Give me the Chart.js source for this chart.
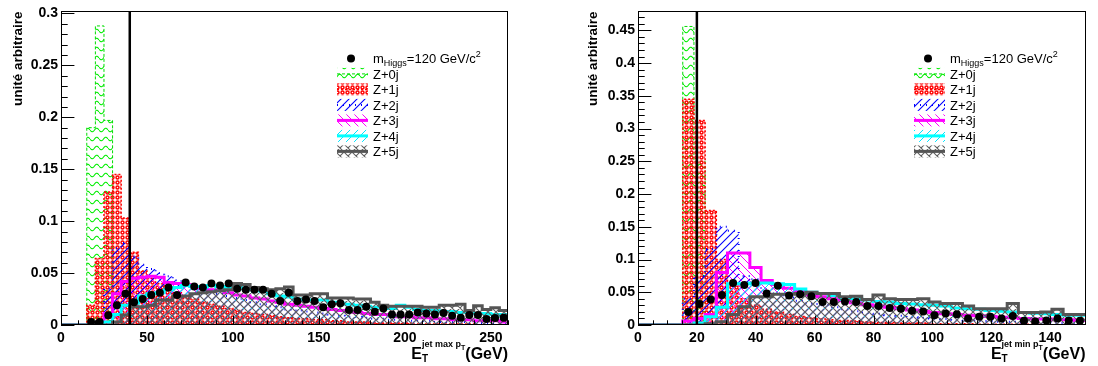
<!DOCTYPE html>
<html>
<head>
<meta charset="utf-8">
<script src="https://cdn.jsdelivr.net/npm/chart.js@4.4.1/dist/chart.umd.min.js"></script>
<style>
  html, body { margin: 0; padding: 0; background: #fff; }
  .pad { position: absolute; top: 0; width: 549px; height: 366px; }
</style>
</head>
<body>
<div class="pad" style="left:0"><canvas id="maxPtChart"></canvas></div>
<div class="pad" style="left:549px"><canvas id="minPtChart"></canvas></div>
<script>
// ---- left pad: E_T of the leading jet, 5 GeV bins from 0 to 260 ----
const maxPtBinWidth = 5;
const maxPtHiggs = [0, 0, 0, 0.003, 0.003, 0.0095, 0.019, 0.030, 0.022, 0.025,
  0.029, 0.031, 0.036, 0.029, 0.041, 0.037, 0.036, 0.040, 0.038, 0.040,
  0.035, 0.034, 0.034, 0.034, 0.030, 0.023, 0.031, 0.023, 0.0245, 0.023,
  0.017, 0.020, 0.021, 0.0145, 0.0145, 0.0175, 0.0127, 0.016, 0.010, 0.010,
  0.010, 0.012, 0.011, 0.0102, 0.0115, 0.0088, 0.007, 0.0096, 0.0096, 0.0058,
  0.0067, 0.007];
const maxPtZ0 = [0, 0, 0, 0.190, 0.288, 0.197, 0, 0, 0, 0,
  0, 0, 0, 0, 0, 0, 0, 0, 0, 0, 0, 0, 0, 0, 0, 0, 0, 0, 0, 0,
  0, 0, 0, 0, 0, 0, 0, 0, 0, 0, 0, 0, 0, 0, 0, 0, 0, 0, 0, 0, 0, 0];
const maxPtZ1 = [0, 0, 0, 0.019, 0.064, 0.128, 0.145, 0.103, 0.070, 0.052,
  0.045, 0.040, 0.035, 0.031, 0.028, 0.025, 0.022, 0.020, 0.018, 0.016,
  0.014, 0.012, 0.011, 0.010, 0.009, 0.008, 0.007, 0.006, 0.006, 0.005,
  0.005, 0.004, 0.004, 0.003, 0.003, 0.003, 0.002, 0.002, 0.002, 0.002,
  0.002, 0.001, 0.001, 0.001, 0.001, 0.001, 0.001, 0.001, 0, 0, 0, 0];
const maxPtZ2 = [0, 0, 0, 0, 0.004, 0.035, 0.074, 0.079, 0.066, 0.058,
  0.054, 0.050, 0.047, 0.043, 0.040, 0.037, 0.034, 0.032, 0.030, 0.028,
  0.026, 0.024, 0.022, 0.020, 0.018, 0.017, 0.015, 0.014, 0.013, 0.012,
  0.011, 0.010, 0.009, 0.008, 0.008, 0.007, 0.006, 0.006, 0.005, 0.005,
  0.004, 0.004, 0.004, 0.003, 0.003, 0.003, 0.003, 0.002, 0.002, 0.002,
  0.002, 0.002];
const maxPtZ3 = [0, 0, 0, 0, 0, 0.011, 0.030, 0.042, 0.045, 0.046,
  0.047, 0.046, 0.041, 0.040, 0.039, 0.037, 0.035, 0.034, 0.033, 0.031,
  0.029, 0.028, 0.026, 0.025, 0.023, 0.022, 0.020, 0.019, 0.018, 0.017,
  0.016, 0.015, 0.014, 0.013, 0.012, 0.011, 0.010, 0.010, 0.009, 0.008,
  0.008, 0.007, 0.007, 0.006, 0.006, 0.005, 0.005, 0.005, 0.004, 0.004,
  0.004, 0.003];
const maxPtZ4 = [0, 0, 0, 0, 0, 0.003, 0.010, 0.019, 0.021, 0.028,
  0.030, 0.031, 0.034, 0.036, 0.038, 0.037, 0.037, 0.038, 0.037, 0.036,
  0.037, 0.035, 0.034, 0.033, 0.030, 0.028, 0.027, 0.025, 0.024, 0.024,
  0.024, 0.022, 0.021, 0.020, 0.019, 0.018, 0.017, 0.017, 0.016, 0.019,
  0.017, 0.015, 0.014, 0.014, 0.013, 0.013, 0.012, 0.012, 0.011, 0.011,
  0.010, 0.010];
const maxPtZ5 = [0, 0, 0, 0, 0, 0, 0.003, 0.0096, 0.0175, 0.0175,
  0.019, 0.024, 0.024, 0.028, 0.028, 0.030, 0.031, 0.032, 0.033, 0.034,
  0.040, 0.039, 0.036, 0.035, 0.034, 0.035, 0.0366, 0.029, 0.029, 0.030,
  0.030, 0.026, 0.026, 0.026, 0.025, 0.025, 0.022, 0.019, 0.018, 0.018,
  0.018, 0.018, 0.017, 0.017, 0.019, 0.019, 0.020, 0.014, 0.0185, 0.015,
  0.0165, 0.014];
const maxPtXTicks = [0, 50, 100, 150, 200, 250];
const maxPtYTicks = [0, 0.05, 0.1, 0.15, 0.2, 0.25, 0.3];
const maxPtCut = [40, 40];

// ---- right pad: E_T of the softest jet, 3.8 GeV bins from 0 to 152 ----
const minPtBinWidth = 3.8;
const minPtHiggs = [0, 0, 0, 0, 0.020, 0.032, 0.039, 0.046, 0.064, 0.061,
  0.064, 0.048, 0.060, 0.045, 0.047, 0.044, 0.035, 0.035, 0.036, 0.035,
  0.029, 0.029, 0.026, 0.025, 0.0216, 0.0205, 0.015, 0.0177, 0.0166, 0.010,
  0.0126, 0.0126, 0.010, 0.0136, 0.0065, 0.0055, 0.007, 0.010, 0.007, 0.0065];
const minPtZ0 = [0, 0, 0, 0, 0.456, 0.25, 0, 0, 0, 0,
  0, 0, 0, 0, 0, 0, 0, 0, 0, 0, 0, 0, 0, 0, 0, 0, 0, 0, 0, 0,
  0, 0, 0, 0, 0, 0, 0, 0, 0, 0];
const minPtZ1 = [0, 0, 0, 0, 0.345, 0.3125, 0.175, 0.10, 0.06, 0.04,
  0.03, 0.024, 0.02, 0.016, 0.013, 0.011, 0.009, 0.008, 0.007, 0.006,
  0.005, 0.004, 0.004, 0.003, 0.003, 0.003, 0.002, 0.002, 0.002, 0.002,
  0.001, 0.001, 0.001, 0.001, 0.001, 0.001, 0, 0, 0, 0];
const minPtZ2 = [0, 0, 0, 0, 0.040, 0.075, 0.116, 0.150, 0.144, 0.075,
  0.070, 0.055, 0.048, 0.042, 0.037, 0.033, 0.030, 0.027, 0.024, 0.021,
  0.019, 0.017, 0.015, 0.014, 0.012, 0.011, 0.010, 0.009, 0.008, 0.007,
  0.007, 0.006, 0.005, 0.005, 0.004, 0.004, 0.004, 0.003, 0.003, 0.003];
const minPtZ3 = [0, 0, 0, 0, 0.006, 0.010, 0.016, 0.080, 0.110, 0.110,
  0.088, 0.068, 0.062, 0.056, 0.051, 0.046, 0.043, 0.040, 0.037, 0.034,
  0.031, 0.029, 0.027, 0.025, 0.023, 0.021, 0.019, 0.017, 0.016, 0.015,
  0.014, 0.013, 0.012, 0.011, 0.010, 0.009, 0.009, 0.008, 0.008, 0.007];
const minPtZ4 = [0, 0, 0, 0, 0, 0.003, 0.0126, 0.027, 0.063, 0.063,
  0.064, 0.064, 0.063, 0.062, 0.055, 0.050, 0.048, 0.045, 0.042, 0.040,
  0.038, 0.036, 0.035, 0.033, 0.032, 0.031, 0.030, 0.029, 0.026, 0.025,
  0.024, 0.022, 0.021, 0.020, 0.019, 0.018, 0.017, 0.016, 0.015, 0.015];
const minPtZ5 = [0, 0, 0, 0, 0, 0, 0.002, 0.005, 0.016, 0.028,
  0.043, 0.043, 0.047, 0.047, 0.048, 0.050, 0.048, 0.048, 0.043, 0.044,
  0.039, 0.046, 0.040, 0.039, 0.039, 0.040, 0.035, 0.033, 0.033, 0.029,
  0.025, 0.025, 0.025, 0.033, 0.019, 0.019, 0.020, 0.024, 0.016, 0.016];
const minPtXTicks = [0, 20, 40, 60, 80, 100, 120, 140];
const minPtYTicks = [0, 0.05, 0.1, 0.15, 0.2, 0.25, 0.3, 0.35, 0.4, 0.45];
const minPtCut = [20, 20];

const bgLabels = ["Z+0j", "Z+1j", "Z+2j", "Z+3j", "Z+4j", "Z+5j"];
const FONT = "'Liberation Sans', Arial, Helvetica, sans-serif";
Chart.defaults.font.family = FONT;

// ---- ROOT-like fill patterns ----
function tile(w, h, draw) {
  const c = document.createElement("canvas");
  c.width = w;
  c.height = h;
  const g = c.getContext("2d");
  draw(g, w, h);
  return g.createPattern(c, "repeat");
}
function hatch(color, dirs, lw) {
  return tile(8, 8, function (g, s) {
    g.strokeStyle = color;
    g.lineWidth = lw;
    g.beginPath();
    for (let k = -1; k <= 1; k++) {
      if (dirs.indexOf("/") >= 0) { g.moveTo(k * s - 1, s + 1); g.lineTo(k * s + s + 1, -1); }
      if (dirs.indexOf("\\") >= 0) { g.moveTo(k * s - 1, -1); g.lineTo(k * s + s + 1, s + 1); }
    }
    g.stroke();
  });
}
const patterns = {
  wave: tile(9, 9, function (g, w) {
    g.strokeStyle = "#00ee00";
    g.lineWidth = 1.1;
    g.beginPath();
    for (let x = 0; x <= w; x += 0.5) {
      const y = 4 + 1.8 * Math.sin((x / w) * 2 * Math.PI);
      x === 0 ? g.moveTo(x, y) : g.lineTo(x, y);
    }
    g.stroke();
  }),
  dots: tile(5, 5, function (g) {
    g.strokeStyle = "#ff0000";
    g.lineWidth = 1.5;
    g.beginPath();
    g.arc(2.5, 2.5, 1.5, 0, 2 * Math.PI);
    g.stroke();
  }),
  blue: hatch("#0000ff", "/", 1.1),
  magenta: hatch("#ff00ff", "\\", 1),
  cyan: hatch("#00e5ff", "/", 1),
  gray: hatch("#606060", "/\\", 1.1),
};

const bgStyles = [
  { fill: patterns.wave, line: "#00dd00", width: 1, dash: [3, 2] },
  { fill: patterns.dots, line: "#ff0000", width: 1.5, dash: [2, 2] },
  { fill: patterns.blue, line: "#0000ff", width: 2, dash: [1, 5] },
  { fill: patterns.magenta, line: "#ff00ff", width: 3, dash: [] },
  { fill: patterns.cyan, line: "#00ffff", width: 3, dash: [] },
  { fill: patterns.gray, line: "#555555", width: 3, dash: [] },
];

function histPoints(values, width) {
  const pts = values.map((v, i) => ({ x: i * width, y: v }));
  pts.push({ x: values.length * width, y: values[values.length - 1] });
  return pts;
}
function markerPoints(values, width) {
  return values
    .map((v, i) => ({ x: (i + 0.5) * width, y: v }))
    .filter((p) => p.y > 0);
}

// ---- frame, inside ticks, x title and legend drawn ROOT style ----
function rootDecor(xTicks, xMinor, yTicks, yMinor, word) {
  return {
    id: "rootDecor",
    afterDraw(chart) {
      const ctx = chart.ctx;
      const a = chart.chartArea;
      const xs = chart.scales.x;
      const ys = chart.scales.y;
      ctx.save();
      ctx.strokeStyle = "#000";
      ctx.lineWidth = 1;
      ctx.strokeRect(Math.round(a.left) + 0.5, Math.round(a.top) + 0.5,
        Math.round(a.right - a.left) - 1, Math.round(a.bottom - a.top) - 1);

      const yLen = 0.03 * (a.right - a.left);
      const xLen = 0.03 * (a.bottom - a.top);
      ctx.beginPath();
      for (let v = 0; v <= ys.max + 1e-9; v += yMinor) {
        const major = yTicks.some((t) => Math.abs(t - v) < 1e-6);
        const py = Math.round(ys.getPixelForValue(v)) + 0.5;
        ctx.moveTo(a.left, py);
        ctx.lineTo(a.left + (major ? yLen : yLen / 2), py);
      }
      for (let v = 0; v <= xs.max + 1e-9; v += xMinor) {
        const major = xTicks.some((t) => Math.abs(t - v) < 1e-6);
        const px = Math.round(xs.getPixelForValue(v)) + 0.5;
        ctx.moveTo(px, a.bottom);
        ctx.lineTo(px, a.bottom - (major ? xLen : xLen / 2));
      }
      ctx.stroke();

      // x axis title: E_T^{jet max p_T}(GeV)
      const bold = (s) => "bold " + s + "px " + FONT;
      const base = a.bottom + 34;
      ctx.fillStyle = "#000";
      ctx.textBaseline = "alphabetic";
      ctx.textAlign = "left";
      ctx.font = bold(16);
      const wGeV = ctx.measureText("(GeV)").width;
      const wE = ctx.measureText("E").width;
      const sup = "jet " + word + " p";
      ctx.font = bold(9);
      const wSup = ctx.measureText(sup).width;
      ctx.font = bold(7);
      const wT2 = ctx.measureText("T").width;
      let x = a.right - wGeV;
      ctx.font = bold(16);
      ctx.fillText("(GeV)", x, base);
      x -= wSup + wT2;
      ctx.font = bold(9);
      ctx.fillText(sup, x, base - 12);
      ctx.font = bold(7);
      ctx.fillText("T", x + wSup, base - 9);
      ctx.font = bold(10);
      ctx.fillText("T", x, base + 3);
      ctx.font = bold(16);
      ctx.fillText("E", x - wE, base);

      // legend
      const bx = a.left + 276;
      const bw = 31;
      const rowY = (i) => a.top + 47 + i * 15.5;
      const reg = (s) => s + "px " + FONT;
      let y0 = rowY(0);
      ctx.fillStyle = "#000";
      ctx.beginPath();
      ctx.arc(bx + 14, y0, 4, 0, 2 * Math.PI);
      ctx.fill();
      let tx = bx + 36;
      ctx.font = reg(13);
      ctx.fillText("m", tx, y0 + 5);
      tx += ctx.measureText("m").width;
      ctx.font = reg(9);
      ctx.fillText("Higgs", tx, y0 + 8);
      tx += ctx.measureText("Higgs").width;
      ctx.font = reg(13);
      ctx.fillText("=120 GeV/c", tx, y0 + 5);
      tx += ctx.measureText("=120 GeV/c").width;
      ctx.font = reg(9);
      ctx.fillText("2", tx, y0 - 1);
      bgLabels.forEach(function (lab, i) {
        const st = bgStyles[i];
        const yc = rowY(i + 1);
        ctx.fillStyle = st.fill;
        ctx.fillRect(bx, yc - 6, bw, 12);
        ctx.strokeStyle = st.line;
        ctx.lineWidth = st.width;
        ctx.setLineDash(st.dash);
        ctx.beginPath();
        ctx.moveTo(bx, yc);
        ctx.lineTo(bx + bw, yc);
        ctx.stroke();
        ctx.setLineDash([]);
        ctx.fillStyle = "#000";
        ctx.font = reg(13);
        ctx.fillText(lab, bx + 36, yc + 5);
      });
      ctx.restore();
    },
  };
}

function makePad(id, p) {
  const datasets = [
    {
      label: "mHiggs=120",
      data: markerPoints(p.higgs, p.binWidth),
      showLine: false,
      pointRadius: 4,
      pointBackgroundColor: "#000",
      pointBorderWidth: 0,
      order: 0,
    },
    {
      label: "cut",
      data: [{ x: p.cut[0], y: 0 }, { x: p.cut[1], y: p.yMax }],
      borderColor: "#000",
      borderWidth: 2.5,
      pointRadius: 0,
      fill: false,
      order: 1,
    },
  ];
  p.bkg.forEach(function (vals, i) {
    const st = bgStyles[i];
    datasets.push({
      label: bgLabels[i],
      data: histPoints(vals, p.binWidth),
      stepped: "before",
      fill: "origin",
      backgroundColor: st.fill,
      borderColor: st.line,
      borderWidth: st.width,
      borderDash: st.dash,
      pointRadius: 0,
      order: 7 - i,
    });
  });
  const tickFont = { family: FONT, size: 14, weight: "bold" };
  return new Chart(document.getElementById(id), {
    type: "line",
    data: { datasets: datasets },
    plugins: [rootDecor(p.xTicks, p.xMinor, p.yTicks, 0.01, p.word)],
    options: {
      responsive: true,
      maintainAspectRatio: false,
      animation: false,
      events: [],
      layout: { padding: { left: 0, right: p.padRight, top: 8, bottom: 0 } },
      plugins: { legend: { display: false }, tooltip: { enabled: false } },
      scales: {
        x: {
          type: "linear",
          min: 0,
          max: p.xMax,
          afterFit: (s) => { s.height = 41; },
          afterBuildTicks: (s) => { s.ticks = p.xTicks.map((v) => ({ value: v })); },
          grid: { display: false, drawTicks: false },
          border: { display: false },
          ticks: { font: tickFont, color: "#000", padding: 5, maxRotation: 0, autoSkip: false,
            callback: (v) => String(v) },
        },
        y: {
          type: "linear",
          min: 0,
          max: p.yMax,
          afterFit: (s) => { s.width = p.yWidth; },
          afterBuildTicks: (s) => { s.ticks = p.yTicks.map((v) => ({ value: v })); },
          grid: { display: false, drawTicks: false },
          border: { display: false },
          ticks: { font: tickFont, color: "#000", padding: 3, autoSkip: false,
            callback: (v) => String(+v.toFixed(2)) },
          title: {
            display: true,
            text: "unité arbitraire",
            align: "end",
            color: "#000",
            font: { family: FONT, size: 13.5, weight: "bold" },
            padding: { top: p.titlePad, bottom: 0 },
          },
        },
      },
    },
  });
}

makePad("maxPtChart", {
  binWidth: maxPtBinWidth,
  higgs: maxPtHiggs,
  bkg: [maxPtZ0, maxPtZ1, maxPtZ2, maxPtZ3, maxPtZ4, maxPtZ5],
  cut: maxPtCut,
  xMax: 260, yMax: 0.302,
  xTicks: maxPtXTicks, xMinor: 10, yTicks: maxPtYTicks,
  yWidth: 61, padRight: 41, titlePad: 10, word: "max",
});
makePad("minPtChart", {
  binWidth: minPtBinWidth,
  higgs: minPtHiggs,
  bkg: [minPtZ0, minPtZ1, minPtZ2, minPtZ3, minPtZ4, minPtZ5],
  cut: minPtCut,
  xMax: 152, yMax: 0.479,
  xTicks: minPtXTicks, xMinor: 5, yTicks: minPtYTicks,
  yWidth: 89, padRight: 12.5, titlePad: 36, word: "min",
});
</script>
</body>
</html>
